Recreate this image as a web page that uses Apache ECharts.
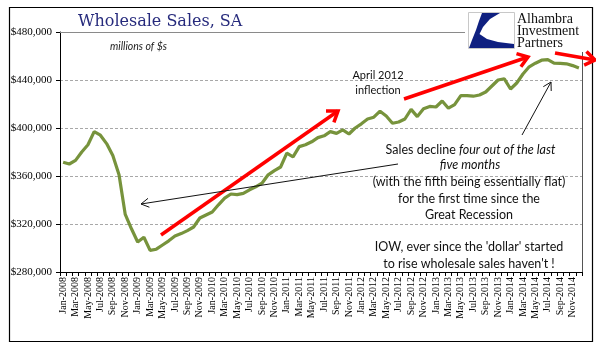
<!DOCTYPE html>
<html><head><meta charset="utf-8">
<script src="https://cdn.jsdelivr.net/npm/echarts@6/dist/echarts.min.js"></script>
<style>html,body{margin:0;padding:0;background:#fff}#c{width:596px;height:358px}</style>
</head><body><div id="c"></div>
<script>
const monthNames = ['Jan','Feb','Mar','Apr','May','Jun','Jul','Aug','Sep','Oct','Nov','Dec'];
const years = [2008,2009,2010,2011,2012,2013,2014];
const categories = [];
years.forEach(function(y){ monthNames.forEach(function(m){ categories.push(m + '-' + y); }); });

// Wholesale sales, millions of $ (SA)
const sales = [
  371500,370000,373000,380000,386000,397000,394000,387000,377000,361000,328000,316000,
  305000,309000,298000,299000,302500,306000,310000,312000,314500,317500,325000,327500,
  330000,336000,341500,345000,344500,345500,348500,351000,354000,361000,364500,367500,
  379000,376000,384500,386000,388500,392000,393500,397000,395500,398500,395000,400000,
  403500,407500,409000,414000,410000,404000,405000,407500,415500,409500,416000,418000,
  417500,422500,416500,419500,427000,427000,426500,427500,430000,435000,440000,441000,
  432500,437500,445000,451000,454000,456500,457000,454000,453800,453500,452000,450000
];
const yMin = 280000, yMax = 480000, yStep = 40000;

const chart = echarts.init(document.getElementById('c'));

function arrow(x1, y1, x2, y2, color, lw, head, ang) {
  const dx = x2 - x1, dy = y2 - y1, L = Math.hypot(dx, dy), ux = dx / L, uy = dy / L;
  const a = ang * Math.PI / 180, c = Math.cos(a), s = Math.sin(a);
  const w1 = [x2 - head * (ux * c - uy * s), y2 - head * (uy * c + ux * s)];
  const w2 = [x2 - head * (ux * c + uy * s), y2 - head * (uy * c - ux * s)];
  return [
    {type: 'line', z: 100, shape: {x1: x1, y1: y1, x2: x2, y2: y2}, style: {stroke: color, lineWidth: lw}},
    {type: 'polyline', z: 100, shape: {points: [w1, [x2, y2], w2]}, style: {stroke: color, lineWidth: lw, fill: null}}
  ];
}
function txt(x, y, text, opts) {
  return Object.assign({type: 'text', z: 101, x: x, y: y,
    style: Object.assign({text: text, fill: '#111', font: '12.5px Lato', textAlign: 'center', textVerticalAlign: 'middle'}, opts || {})});
}

const graphics = [
  {type: 'rect', z: 50, shape: {x: 465, y: 9, width: 126, height: 42}, style: {fill: '#fff'}},
  {type: 'line', z: 51, shape: {x1: 60, y1: 32.5, x2: 465, y2: 32.5}, style: {stroke: '#8a8a8a', lineWidth: 1}},
  {type: 'line', z: 51, shape: {x1: 582.5, y1: 52, x2: 582.5, y2: 272}, style: {stroke: '#555', lineWidth: 1}},
  {type: 'rect', z: 0, shape: {x: 9.5, y: 7.5, width: 583, height: 334}, style: {fill: null, stroke: '#000', lineWidth: 1.2}},
  // logo
  {type: 'rect', z: 52, shape: {x: 468.5, y: 12.5, width: 46, height: 36}, style: {fill: '#fff', stroke: '#c8c8c8', lineWidth: 1}},
  {type: 'polygon', z: 53, shape: {points: [[482,13],[500,13],[490,19],[483,27],[479.5,34],[487,39],[498,42],[514,44],[514,48],[469,48],[472,40],[476,30],[479,21]]}, style: {fill: '#0f2080'}},
  txt(517, 19, 'Alhambra', {font: '14px "Liberation Serif"', fill: '#111', textAlign: 'left'}),
  txt(517, 31.5, 'Investment', {font: '14px "Liberation Serif"', fill: '#111', textAlign: 'left'}),
  txt(517, 43.5, 'Partners', {font: '14px "Liberation Serif"', fill: '#111', textAlign: 'left'}),
  // title & subtitle
  txt(78, 22, 'Wholesale Sales, SA', {font: '16px "DejaVu Serif"', fill: '#262a7c', textAlign: 'left'}),
  txt(110, 47, 'millions of $s', {font: 'italic 10.5px Lato', fill: '#222', textAlign: 'left'}),
  // annotations
  txt(378, 75, 'April 2012', {font: '11px Lato'}),
  txt(378, 90, 'inflection', {font: '11px Lato'}),
  {type: 'text', z: 101, x: 470.5, y: 150, style: {text: '{n|Sales decline }{i|four out of the last}', textAlign: 'center', textVerticalAlign: 'middle', font: '12.5px Lato', fill: '#111',
    rich: {n: {font: '12.5px Lato', fill: '#111'}, i: {font: 'italic 12.5px Lato', fill: '#111'}}}},
  txt(470, 165, 'five months', {font: 'italic 12.5px Lato'}),
  txt(469, 182, '(with the fifth being essentially flat)'),
  txt(469, 199, 'for the first time since the'),
  txt(469, 215, 'Great Recession'),
  txt(469, 247, "IOW, ever since the 'dollar' started"),
  txt(469, 264, "to rise wholesale sales haven't !")
].concat(
  arrow(161, 235, 338, 111, '#ff0000', 3.5, 12, 35),
  arrow(404, 99, 528, 57, '#ff0000', 3.5, 12, 35),
  arrow(555, 53, 595, 60, '#ff0000', 3.5, 12, 35),
  arrow(398, 164, 141, 204, '#111', 1, 9, 30),
  arrow(522, 135, 551, 82, '#111', 1, 9, 30)
);

chart.setOption({
  animation: false,
  backgroundColor: '#fff',
  grid: {left: 60, right: 14, top: 32, bottom: 86},
  xAxis: {
    type: 'category', data: categories, boundaryGap: true,
    axisLine: {lineStyle: {color: '#000', width: 1}},
    axisTick: {show: true, interval: 0, length: 4, lineStyle: {color: '#000'}},
    axisLabel: {interval: 1, rotate: 90, margin: 5, color: '#000', fontFamily: 'Liberation Serif', fontSize: 10}
  },
  yAxis: {
    type: 'value', min: yMin, max: yMax, interval: yStep,
    axisLine: {show: true, lineStyle: {color: '#000', width: 1}},
    axisTick: {show: true, length: 4, lineStyle: {color: '#000'}},
    axisLabel: {margin: 8, color: '#000', fontFamily: 'Liberation Serif', fontSize: 11,
      formatter: function(v){ return '$' + v.toLocaleString('en-US'); }},
    splitLine: {show: true, lineStyle: {color: '#a8a8a8', type: [3, 2], width: 1}}
  },
  series: [{
    type: 'line', data: sales, symbol: 'none', smooth: false,
    lineStyle: {color: '#77933c', width: 3.2}, z: 3
  }],
  graphic: graphics
});
</script></body></html>
